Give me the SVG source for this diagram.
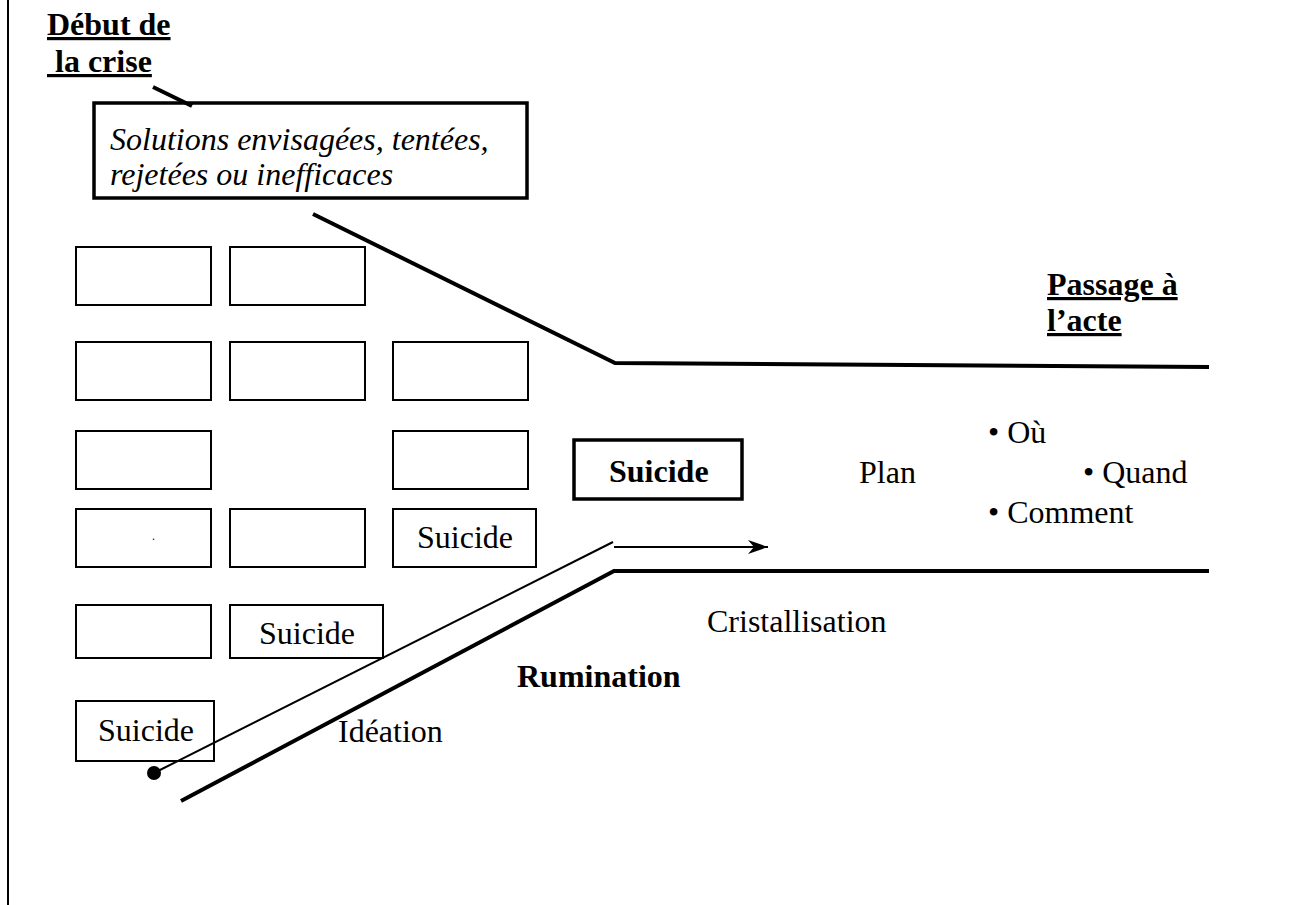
<svg xmlns="http://www.w3.org/2000/svg" width="1291" height="905" viewBox="0 0 1291 905">
<defs>
<style>
text{font-family:"Liberation Serif","Times New Roman",serif;font-size:32px;fill:#000}
.b{font-weight:bold}
.i{font-style:italic}
.u{text-decoration:underline}
.box{fill:#fff;stroke:#000;stroke-width:2}
.bbox{fill:#fff;stroke:#000;stroke-width:3.5}
.thick{fill:none;stroke:#000;stroke-width:4}
.thin{fill:none;stroke:#000;stroke-width:2}
</style>
<marker id="arr" markerWidth="22" markerHeight="16" refX="20" refY="8" orient="auto" markerUnits="userSpaceOnUse">
<path d="M0,1 L20,8 L0,15 L6,8 Z" fill="#000"/>
</marker>
</defs>
<rect width="1291" height="905" fill="#fff"/>
<line x1="8" y1="0" x2="8" y2="905" stroke="#000" stroke-width="2"/>

<g id="debut">
<text class="b u" x="47" y="35">Début de</text>
<text class="b u" x="47" y="72" xml:space="preserve"> la crise</text>
</g>
<g id="solutions">
<rect class="bbox" x="94" y="103" width="433" height="95"/>
<text class="i" x="110" y="150">Solutions envisagées, tentées,</text>
<text class="i" x="110" y="185">rejetées ou inefficaces</text>
</g>
<g id="passage">
<text class="b u" x="1047" y="295">Passage à</text>
<text class="b u" x="1047" y="331">l’acte</text>
</g>

<g id="grid">
<rect class="box" x="76" y="247" width="135" height="58"/>
<rect class="box" x="230" y="247" width="135" height="58"/>
<rect class="box" x="76" y="342" width="135" height="58"/>
<rect class="box" x="230" y="342" width="135" height="58"/>
<rect class="box" x="393" y="342" width="135" height="58"/>
<rect class="box" x="76" y="431" width="135" height="58"/>
<rect class="box" x="393" y="431" width="135" height="58"/>
<g id="r4c1"><rect class="box" x="76" y="509" width="135" height="58"/><text x="152" y="540" style="font-size:12px">.</text></g>
<rect class="box" x="230" y="509" width="135" height="58"/>
<g id="r4c3"><rect class="box" x="393" y="509" width="143" height="58"/><text x="417" y="548">Suicide</text></g>
<rect class="box" x="76" y="605" width="135" height="53"/>
<g id="r5c2"><rect class="box" x="230" y="605" width="153" height="53"/><text x="259" y="644">Suicide</text></g>
<g id="r6c1"><rect class="box" x="76" y="701" width="138" height="60"/><text x="98" y="741">Suicide</text></g>
</g>

<g id="suicide-main">
<rect class="bbox" x="574" y="440" width="168" height="59"/>
<text class="b" x="609" y="482">Suicide</text>
</g>

<g id="labels">
<text x="859" y="483">Plan</text>
<text x="988" y="443">• Où</text>
<text x="1083" y="483">• Quand</text>
<text x="988" y="523">• Comment</text>
<text x="707" y="632">Cristallisation</text>
<text class="b" x="517" y="687">Rumination</text>
<text x="338" y="742">Idéation</text>
</g>

<g id="connectors">
<line class="thick" x1="153" y1="87" x2="192" y2="106"/>
<polyline class="thick" points="313,214 615,363 1209,367"/>
<polyline class="thick" points="181,801 614,571 1209,571"/>
<line class="thin" x1="154" y1="773" x2="613" y2="542"/>
<circle cx="154" cy="773" r="7" fill="#000"/>
<line class="thin" x1="614" y1="547" x2="768" y2="547" marker-end="url(#arr)"/>
</g>
</svg>
